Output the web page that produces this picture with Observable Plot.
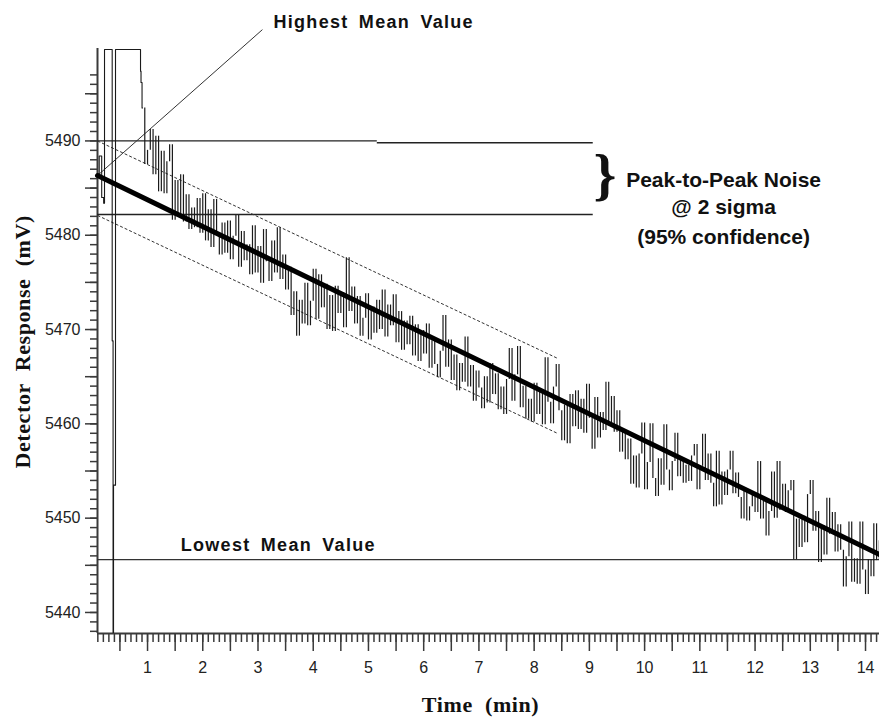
<!DOCTYPE html>
<html><head><meta charset="utf-8">
<script src="https://cdn.jsdelivr.net/npm/d3@7"></script>
<script src="https://cdn.jsdelivr.net/npm/@observablehq/plot@0.6"></script>
<style>html,body{margin:0;padding:0;background:#fff;overflow:hidden}</style>
</head><body><div id="chart"></div>
<script>
// ---- axes / domains (min, mV) ----
const xDomain = [0.094, 14.253];
const yDomain = [5437.77, 5499.8];
const xLabelTicks = d3.range(1, 15);
const xHalfTicks = d3.range(1, 29).map(d => d / 2);
const xMinorTicks = d3.range(1, 143).map(d => d / 10);
const yLabelTicks = [5440, 5450, 5460, 5470, 5480, 5490];
const yMidTicks = [5440, 5445, 5450, 5455, 5460, 5465, 5470, 5475, 5480, 5485, 5490, 5495];
const yMinorTicks = d3.range(5438, 5498);

// ---- detector start-up transient (time, mV) ----
const startupT = [0.100, 0.150, 0.190, 0.221, 0.221, 0.360, 0.360, 0.376, 0.376, 0.384, 0.384, 0.420, 0.420, 0.873, 0.873, 0.891, 0.910];
const startupV = [5486.5, 5488.4, 5484.0, 5483.4, 5499.7, 5499.7, 5468.8, 5468.8, 5436.0, 5436.0, 5453.5, 5453.5, 5499.7, 5499.7, 5497.4, 5496.2, 5493.5];

// ---- baseline signal, sampled every 0.05 min from 0.95 min (mV) ----
const sampleStart = 0.95;
const sampleStep = 0.05;
const signalV = [
  5487.5, 5489.0, 5491.2, 5486.4, 5490.5, 5484.6, 5488.9, 5484.4, 5487.8,
  5489.6, 5481.6, 5485.8, 5482.0, 5486.4, 5481.4, 5484.3, 5480.6, 5482.9, 5480.8,
  5483.9, 5480.2, 5484.4, 5479.4, 5482.7, 5478.7, 5483.8, 5480.0, 5477.9, 5481.3,
  5478.1, 5481.5, 5477.4, 5479.9, 5482.1, 5476.6, 5480.4, 5477.3, 5479.0, 5475.8,
  5481.0, 5476.0, 5478.8, 5474.9, 5480.6, 5477.2, 5475.1, 5479.4, 5476.0, 5480.8,
  5475.3, 5477.9, 5474.2, 5476.6, 5471.5, 5474.0, 5469.3, 5473.1, 5470.6, 5474.9,
  5470.4, 5473.0, 5476.4, 5471.1, 5475.8, 5472.3, 5474.8, 5470.0, 5473.6, 5469.8,
  5474.6, 5471.7, 5473.9, 5470.2, 5477.6, 5471.9, 5474.5, 5470.6, 5473.5, 5469.3,
  5471.2, 5473.8, 5468.9, 5472.4, 5469.6, 5473.1, 5470.0, 5474.2, 5469.2, 5472.6,
  5470.4, 5473.7, 5468.6, 5471.9, 5467.8, 5470.9, 5468.4, 5471.4, 5467.2, 5470.5,
  5466.6, 5469.9, 5467.4, 5470.6, 5465.9, 5468.8, 5466.3, 5464.9, 5467.7, 5471.5,
  5466.0, 5468.9, 5464.6, 5467.3, 5463.5, 5466.4, 5464.4, 5469.2, 5463.9, 5466.2,
  5462.4, 5465.6, 5463.8, 5461.6, 5465.0, 5462.2, 5466.4, 5463.1, 5465.3, 5461.5,
  5463.9, 5461.0, 5464.7, 5468.0, 5462.4, 5465.2, 5468.2, 5461.7, 5464.0, 5460.5,
  5462.6, 5460.2, 5464.3, 5461.0, 5463.6, 5459.9, 5467.0, 5462.3, 5460.0, 5463.9,
  5466.3, 5461.4, 5458.2, 5462.0, 5457.9, 5463.1, 5459.7, 5463.5, 5459.4, 5462.6,
  5459.0, 5464.2, 5460.6, 5457.3, 5462.8, 5458.5, 5461.2, 5459.3, 5464.4, 5459.8,
  5462.9, 5459.1, 5461.4, 5457.0, 5459.3, 5456.2, 5458.4, 5453.6, 5456.6, 5453.2,
  5456.8, 5460.1, 5453.0, 5455.9, 5460.0, 5454.2, 5452.3, 5456.3, 5453.5, 5459.9,
  5455.1, 5452.9, 5456.0, 5459.0, 5454.4, 5456.3, 5453.7, 5455.6, 5453.9, 5456.6,
  5457.8, 5453.0, 5455.5, 5458.9, 5454.0, 5456.8, 5453.7, 5451.2, 5457.1, 5451.4,
  5454.9, 5452.4, 5455.1, 5457.1, 5452.6, 5454.8, 5452.2, 5449.9, 5453.1, 5449.7,
  5451.2, 5452.7, 5450.6, 5456.0, 5449.9, 5452.1, 5448.1, 5450.7, 5454.9, 5450.0,
  5456.0, 5450.8, 5453.6, 5450.6, 5452.9, 5454.0, 5445.6, 5449.9, 5446.9, 5450.2,
  5447.4, 5452.5, 5454.0, 5448.6, 5450.7, 5445.3, 5449.2, 5446.1, 5452.1, 5448.3,
  5450.6, 5446.4, 5449.3, 5446.6, 5442.7, 5445.9, 5449.6, 5443.2, 5445.7, 5443.0,
  5449.6, 5444.5, 5441.9, 5445.6, 5443.8, 5449.4, 5445.5, 5447.6
];

// ---- fitted drift (regression) line ----
const regT = [0.094, 14.253];
const regV = [5486.33, 5446.14];

// ---- reference levels ----
const highestMean = [{t1: 0.094, t2: 5.16, v: 5490.0}, {t1: 5.16, t2: 9.07, v: 5489.8}];
const peakLow = [{t1: 0.094, t2: 9.07, v: 5482.2}];
const lowestMean = [{t1: 0.094, t2: 14.253, v: 5445.6}];
const envelope = [
  {t1: 0.094, v1: 5490.0, t2: 8.44, v2: 5466.9},
  {t1: 0.094, v1: 5482.1, t2: 8.42, v2: 5459.0}
];
const pointer = [{t1: 0.094, v1: 5486.33, t2: 3.08, v2: 5501.8}];

// ---- texts ----
const annotations = [
  {t: 3.28, v: 5502.55, text: "Highest Mean Value"},
  {t: 1.60, v: 5447.1, text: "Lowest Mean Value"}
];
const noiseText = [
  {t: 11.43, v: 5485.8, text: "Peak-to-Peak Noise"},
  {t: 11.43, v: 5482.95, text: "@ 2 sigma"},
  {t: 11.43, v: 5479.8, text: "(95% confidence)"}
];
const brace = [{t: 9.28, v: 5486.3, text: "}"}];
const yTitle = [{t: -1.26, v: 5468.7, text: "Detector  Response  (mV)"}];
const xTitle = [{t: 7.03, v: 5430.15, text: "Time  (min)"}];

const startup = startupT.map((t, i) => ({t, v: startupV[i]}));
const samples = signalV.map((v, i) => ({t: +(sampleStart + i * sampleStep).toFixed(3), v}));
// each sample drawn as a vertical stroke from the previous reading to this one
const strokes = samples.map((d, i) => ({t: d.t, v0: i === 0 ? startupV[startupV.length - 1] : samples[i - 1].v, v1: d.v}));
const reg = regT.map((t, i) => ({t, v: regV[i]}));

const axisStroke = "#3a3a3a";
const chart = Plot.plot({
  width: 879,
  height: 717,
  marginLeft: 97,
  marginRight: 0,
  marginTop: 48,
  marginBottom: 84,
  style: {background: "white"},
  x: {domain: xDomain, label: null},
  y: {domain: yDomain, label: null},
  marks: [
    Plot.axisY({ticks: yMinorTicks, tickSize: 7, tickFormat: () => "", label: null, stroke: axisStroke, strokeWidth: 1.5}),
    Plot.axisY({ticks: yMidTicks, tickSize: 12, tickFormat: () => "", label: null, stroke: axisStroke, strokeWidth: 1.5}),
    Plot.axisY({ticks: yLabelTicks, tickSize: 0, tickPadding: 17, label: null, fontSize: 16, fontFamily: "Liberation Sans", fill: "#222", tickFormat: d => String(d)}),
    Plot.axisX({ticks: xMinorTicks, tickSize: 9, tickFormat: () => "", label: null, stroke: axisStroke, strokeWidth: 1.5}),
    Plot.axisX({ticks: xHalfTicks, tickSize: 18, tickFormat: () => "", label: null, stroke: axisStroke, strokeWidth: 1.5}),
    Plot.axisX({ticks: xLabelTicks, tickSize: 0, tickPadding: 28, label: null, fontSize: 16, fontFamily: "Liberation Sans", fill: "#222", tickFormat: d => String(d)}),
    Plot.ruleX([xDomain[0]], {y1: yDomain[0], y2: yDomain[1], stroke: axisStroke, strokeWidth: 2}),
    Plot.ruleY([yDomain[0]], {x1: xDomain[0], x2: xDomain[1], stroke: axisStroke, strokeWidth: 2}),
    Plot.ruleY(highestMean, {y: "v", x1: "t1", x2: "t2", stroke: "#222", strokeWidth: 1.4}),
    Plot.ruleY(peakLow, {y: "v", x1: "t1", x2: "t2", stroke: "#222", strokeWidth: 1.4}),
    Plot.ruleY(lowestMean, {y: "v", x1: "t1", x2: "t2", stroke: "#333", strokeWidth: 1.4}),
    Plot.link(envelope, {x1: "t1", y1: "v1", x2: "t2", y2: "v2", stroke: "#333", strokeWidth: 1, strokeDasharray: "3,2"}),
    Plot.link(pointer, {x1: "t1", y1: "v1", x2: "t2", y2: "v2", stroke: "#333", strokeWidth: 1}),
    Plot.line(startup, {x: "t", y: "v", curve: "step", stroke: "#1a1a1a", strokeWidth: 1.1, clip: true}),
    Plot.ruleX(strokes, {x: "t", y1: "v0", y2: "v1", stroke: "#1a1a1a", strokeWidth: 1.2, clip: true}),
    Plot.line(reg, {x: "t", y: "v", stroke: "#000", strokeWidth: 5}),
    Plot.text(annotations, {x: "t", y: "v", text: "text", textAnchor: "start", fontSize: 18, fontWeight: "bold", fontFamily: "Liberation Sans", fill: "#111"}),
    Plot.text(noiseText, {x: "t", y: "v", text: "text", textAnchor: "middle", fontSize: 21, fontWeight: "bold", fontFamily: "Liberation Sans", fill: "#111"}),
    Plot.text(brace, {x: "t", y: "v", text: "text", fontSize: 58, fontWeight: "bold", fontFamily: "Liberation Serif", fill: "#111"}),
    Plot.text(yTitle, {x: "t", y: "v", text: "text", rotate: -90, fontSize: 22, fontWeight: "bold", fontFamily: "Liberation Serif", fill: "#111"}),
    Plot.text(xTitle, {x: "t", y: "v", text: "text", fontSize: 22, fontWeight: "bold", fontFamily: "Liberation Serif", fill: "#111"})
  ]
});
d3.select(chart).selectAll("text")
  .filter(function () { return /Mean Value/.test(this.textContent); })
  .style("letter-spacing", "1.3px").style("word-spacing", "4px");
d3.select(chart).selectAll("text")
  .filter(function () { return /Detector|Time/.test(this.textContent); })
  .style("white-space", "pre").style("letter-spacing", "0.6px");
document.getElementById("chart").appendChild(chart);
</script></body></html>
